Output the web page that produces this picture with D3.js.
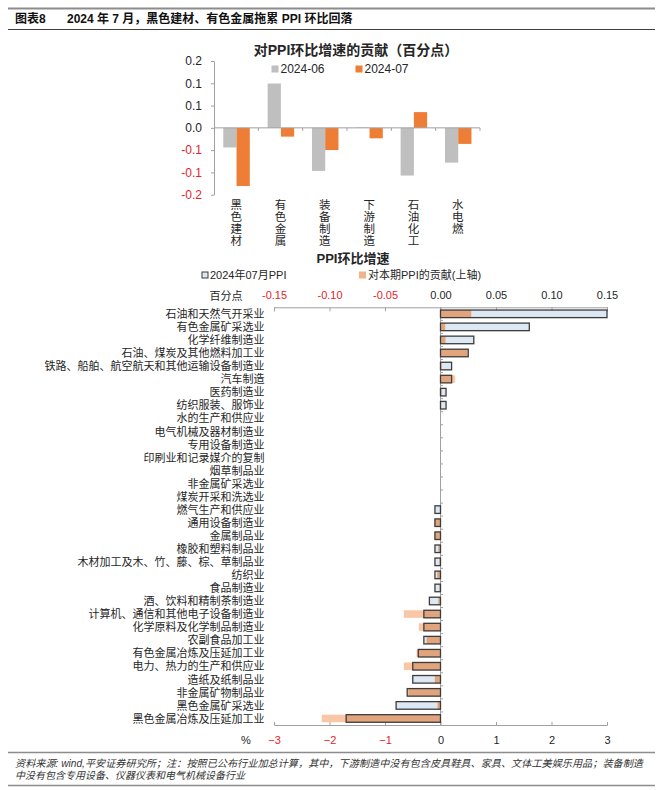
<!DOCTYPE html>
<html><head><meta charset="utf-8">
<script src="https://cdn.jsdelivr.net/npm/d3@7"></script>
<style>
body{margin:0;background:#fff;}
svg{display:block;font-family:"Liberation Sans","Noto Sans CJK SC",sans-serif;}
</style></head><body>
<svg id="c" width="660" height="790"></svg>
<script>
// ---------- data ----------
const headerLabel = "图表8";
const headerTitle = "2024 年 7 月，黑色建材、有色金属拖累 PPI 环比回落";

const topTitle = "对PPI环比增速的贡献（百分点）";
const topSeries = ["2024-06", "2024-07"];
const topCategories = ["黑色建材", "有色金属", "装备制造", "下游制造", "石油化工", "水电燃"];
const contribJun = [-0.044, 0.0995, -0.0966, 0.001, -0.107, -0.078];
const contribJul = [-0.1305, -0.0197, -0.0498, -0.0235, 0.0353, -0.036];
const topTickValues = [0.15, 0.10, 0.05, 0, -0.05, -0.10, -0.15];
const topTickLabels = ["0.2", "0.1", "0.1", "0.0", "-0.1", "-0.1", "-0.2"];

const bottomTitle = "PPI环比增速";
const bottomSeries = ["2024年07月PPI", "对本期PPI的贡献(上轴)"];
const industries = [
  "石油和天然气开采业", "有色金属矿采选业", "化学纤维制造业", "石油、煤炭及其他燃料加工业",
  "铁路、船舶、航空航天和其他运输设备制造业", "汽车制造", "医药制造业", "纺织服装、服饰业",
  "水的生产和供应业", "电气机械及器材制造业", "专用设备制造业", "印刷业和记录媒介的复制",
  "烟草制品业", "非金属矿采选业", "煤炭开采和洗选业", "燃气生产和供应业",
  "通用设备制造业", "金属制品业", "橡胶和塑料制品业", "木材加工及木、竹、藤、棕、草制品业",
  "纺织业", "食品制造业", "酒、饮料和精制茶制造业", "计算机、通信和其他电子设备制造业",
  "化学原料及化学制品制造业", "农副食品加工业", "有色金属冶炼及压延加工业", "电力、热力的生产和供应业",
  "造纸及纸制品业", "非金属矿物制品业", "黑色金属矿采选业", "黑色金属冶炼及压延加工业"
];
const ppiMoM = [3.0, 1.6, 0.6, 0.5, 0.2, 0.2, 0.1, 0.1, 0, 0, 0, 0, 0, 0, 0, -0.1,
  -0.1, -0.1, -0.1, -0.1, -0.1, -0.1, -0.2, -0.3, -0.3, -0.3, -0.4, -0.5, -0.5, -0.6, -0.8, -1.7];
const contribution = [0.0277, 0.0042, 0.0045, 0.0245, 0.001, 0.0132, 0.001, 0.0005, 0, 0, 0, 0, 0, 0, 0, -0.0005,
  -0.0055, -0.0055, -0.002, -0.001, -0.003, -0.001, -0.002, -0.033, -0.0195, -0.0126, -0.0216, -0.033, -0.0051, -0.029, -0.0027, -0.107];
const pctTicks = [-3, -2, -1, 0, 1, 2, 3];
const ppTicks = [-0.15, -0.10, -0.05, 0, 0.05, 0.10, 0.15];
const ppTickLabels = ["-0.15", "-0.10", "-0.05", "0.00", "0.05", "0.10", "0.15"];
const ppUnit = "百分点";
const pctUnit = "%";
const footnote = [
  "资料来源: wind,平安证券研究所；注：按照已公布行业加总计算，其中，下游制造中没有包含皮具鞋具、家具、文体工美娱乐用品；装备制造",
  "中没有包含专用设备、仪器仪表和电气机械设备行业"
];

// ---------- styles ----------
const RED = "#e3242b", TXT = "#262626", AX = "#a0a0a0";
const GRAY = "#bfbfbf", ORANGE = "#ee7d35";
const BLUE_FILL = "#dde8f5", PEACH_LIGHT = "#f8c8a6", PEACH_DARK = "#e2a47d", OUTLINE = "#3c3c3c";

const svg = d3.select("#c");

// ---------- header ----------
svg.append("line").attr("x1", 8).attr("x2", 655).attr("y1", 8.5).attr("y2", 8.5).attr("stroke", "#8c8c8c").attr("stroke-width", 2);
svg.append("line").attr("x1", 8).attr("x2", 655).attr("y1", 29.5).attr("y2", 29.5).attr("stroke", "#404040").attr("stroke-width", 1);
svg.append("text").attr("x", 15).attr("y", 23).attr("font-size", 12).attr("font-weight", "bold").attr("fill", "#111").text(headerLabel);
svg.append("text").attr("x", 67).attr("y", 23).attr("font-size", 12).attr("font-weight", "bold").attr("fill", "#111").text(headerTitle);

// ---------- top chart ----------
const tx = d3.scaleBand().domain(topCategories).range([214, 480]);
const ty = d3.scaleLinear().domain([-0.15, 0.15]).range([194.7, 61]);
const sub = d3.scaleBand().domain(topSeries).range([9.3, 35.8]);

svg.append("text").attr("x", 356).attr("y", 55).attr("text-anchor", "middle")
  .attr("font-size", 14).attr("font-weight", "bold").attr("fill", TXT).text(topTitle);

// legend
const topColors = [GRAY, ORANGE];
const legX = [271.5, 355.5];
topSeries.forEach((s, i) => {
  svg.append("rect").attr("x", legX[i]).attr("y", 65.5).attr("width", 7).attr("height", 7).attr("fill", topColors[i]);
  svg.append("text").attr("x", legX[i] + 9).attr("y", 73.3).attr("font-size", 12).attr("fill", TXT).text(s);
});

// y axis
const yAxis = d3.axisLeft(ty).tickValues(topTickValues).tickSizeInner(3).tickSizeOuter(0).tickPadding(9)
  .tickFormat((d, i) => topTickLabels[i]);
const gy = svg.append("g").attr("transform", "translate(214,0)").call(yAxis);
gy.select(".domain").attr("stroke", AX);
gy.selectAll(".tick line").attr("stroke", AX);
gy.selectAll(".tick text").attr("font-size", 12).attr("font-family", "Liberation Sans, sans-serif")
  .attr("fill", (d) => d < 0 ? RED : TXT);

// bars
const topData = topCategories.map((c, i) => ({ c, vals: [contribJun[i], contribJul[i]] }));
topData.forEach(d => {
  d.vals.forEach((v, j) => {
    svg.append("rect")
      .attr("x", tx(d.c) + sub(topSeries[j]))
      .attr("width", sub.bandwidth())
      .attr("y", Math.min(ty(v), ty(0)))
      .attr("height", Math.abs(ty(v) - ty(0)))
      .attr("fill", topColors[j]);
  });
});

// x axis line at zero with boundary ticks
svg.append("line").attr("x1", tx.range()[0]).attr("x2", tx.range()[1]).attr("y1", ty(0)).attr("y2", ty(0)).attr("stroke", AX);
const bounds = topCategories.map(c => tx(c)).concat([tx.range()[1]]);
bounds.slice(1).forEach(b => {
  svg.append("line").attr("x1", b).attr("x2", b).attr("y1", ty(0)).attr("y2", ty(0) + 3).attr("stroke", AX);
});

// vertical category labels (one character per line)
topCategories.forEach(c => {
  const cx = tx(c) + tx.bandwidth() / 2;
  Array.from(c).forEach((ch, k) => {
    svg.append("text").attr("x", cx).attr("y", 208.5 + k * 12)
      .attr("text-anchor", "middle").attr("font-size", 11.5).attr("fill", TXT).text(ch);
  });
});

// ---------- bottom chart ----------
svg.append("text").attr("x", 353).attr("y", 263).attr("text-anchor", "middle")
  .attr("font-size", 13).attr("font-weight", "bold").attr("fill", TXT).text(bottomTitle);

// legend
svg.append("rect").attr("x", 202).attr("y", 272).attr("width", 6).attr("height", 6)
  .attr("fill", BLUE_FILL).attr("stroke", OUTLINE).attr("stroke-width", 1);
svg.append("text").attr("x", 210).attr("y", 279.3).attr("font-size", 11).attr("fill", TXT).text(bottomSeries[0]);
svg.append("rect").attr("x", 359).attr("y", 271.5).attr("width", 7).attr("height", 7).attr("fill", "#f1b48a");
svg.append("text").attr("x", 368).attr("y", 279.3).attr("font-size", 11).attr("fill", TXT).text(bottomSeries[1]);

const bx = d3.scaleLinear().domain([-3, 3]).range([274, 607]);
const bxTop = d3.scaleLinear().domain([-0.15, 0.15]).range([274, 607]);
const by = d3.scaleBand().domain(industries).range([307.3, 725]).paddingInner(0.42).paddingOuter(0.21);
const yTop = 307.3, yBot = 725;

// top axis (contribution, 百分点)
const topAx = d3.axisTop(bxTop).tickValues(ppTicks).tickSizeInner(-4).tickSizeOuter(-4).tickPadding(8)
  .tickFormat((d, i) => ppTickLabels[i]);
const gt = svg.append("g").attr("transform", `translate(0,${yTop})`).call(topAx);
gt.select(".domain").attr("stroke", AX);
gt.selectAll(".tick line").attr("stroke", AX);
gt.selectAll(".tick text").attr("font-size", 11).attr("font-family", "Liberation Sans, sans-serif")
  .attr("fill", d => d < 0 ? RED : TXT);
svg.append("text").attr("x", 226).attr("y", 299.5).attr("text-anchor", "middle").attr("font-size", 11).attr("fill", TXT).text(ppUnit);

// bottom axis (%)
const botAx = d3.axisBottom(bx).tickValues(pctTicks).tickSizeInner(-3).tickSizeOuter(-3).tickPadding(11)
  .tickFormat(d3.format("d"));
const gb = svg.append("g").attr("transform", `translate(0,${yBot})`).call(botAx);
gb.select(".domain").attr("stroke", AX);
gb.selectAll(".tick line").attr("stroke", AX);
gb.selectAll(".tick text").attr("font-size", 11).attr("font-family", "Liberation Sans, sans-serif")
  .attr("fill", d => d < 0 ? RED : TXT);
svg.append("text").attr("x", 246).attr("y", 744).attr("text-anchor", "middle").attr("font-size", 11).attr("fill", TXT).text(pctUnit);

// zero line with category ticks
const x0 = bx(0);
svg.append("line").attr("x1", x0).attr("x2", x0).attr("y1", yTop).attr("y2", yBot).attr("stroke", AX);
industries.forEach((c, i) => {
  const yb = yTop + (i + 1) * by.step();
  if (i < industries.length - 1)
    svg.append("line").attr("x1", x0).attr("x2", x0 + 2.5).attr("y1", yb).attr("y2", yb).attr("stroke", AX);
});

// category labels
industries.forEach(c => {
  svg.append("text").attr("x", 264.5).attr("y", by(c) + by.bandwidth() / 2 + 4.2)
    .attr("text-anchor", "end").attr("font-size", 11).attr("fill", TXT).text(c);
});

// bars
const rows = industries.map((c, i) => ({ c, p: ppiMoM[i], k: contribution[i] }));
const gBars = svg.append("g");
rows.forEach(d => {
  const y = by(d.c), h = by.bandwidth();
  const px = bx(d.p), kx = bxTop(d.k);
  if (d.k !== 0) {
    gBars.append("rect").attr("x", Math.min(kx, x0)).attr("width", Math.abs(kx - x0))
      .attr("y", y).attr("height", h).attr("fill", PEACH_LIGHT);
  }
  if (d.p !== 0) {
    gBars.append("rect").attr("x", Math.min(px, x0)).attr("width", Math.abs(px - x0))
      .attr("y", y).attr("height", h).attr("fill", BLUE_FILL);
  }
  if (d.p !== 0 && d.k !== 0 && Math.sign(d.p) === Math.sign(d.k)) {
    const ov = Math.min(Math.abs(px - x0), Math.abs(kx - x0));
    const s = Math.sign(d.p);
    gBars.append("rect").attr("x", s > 0 ? x0 : x0 - ov).attr("width", ov)
      .attr("y", y).attr("height", h).attr("fill", PEACH_DARK);
  }
  if (d.p !== 0) {
    gBars.append("rect").attr("x", Math.min(px, x0)).attr("width", Math.abs(px - x0))
      .attr("y", y).attr("height", h).attr("fill", "none").attr("stroke", OUTLINE).attr("stroke-width", 1.3);
  }
});

// ---------- footer ----------
svg.append("line").attr("x1", 8).attr("x2", 655).attr("y1", 752.5).attr("y2", 752.5).attr("stroke", "#8c8c8c").attr("stroke-width", 1.5);
const footLens = [628, null];
footnote.forEach((t, i) => {
  const ft = svg.append("text").attr("x", 15).attr("y", 766.5 + i * 12.5).attr("font-size", 10)
    .attr("font-style", "italic").attr("fill", "#333").text(t);
  if (footLens[i]) ft.attr("textLength", footLens[i]).attr("lengthAdjust", "spacingAndGlyphs");
});
svg.append("line").attr("x1", 8).attr("x2", 655).attr("y1", 785.5).attr("y2", 785.5).attr("stroke", "#8c8c8c").attr("stroke-width", 1.5);
</script>
</body></html>
